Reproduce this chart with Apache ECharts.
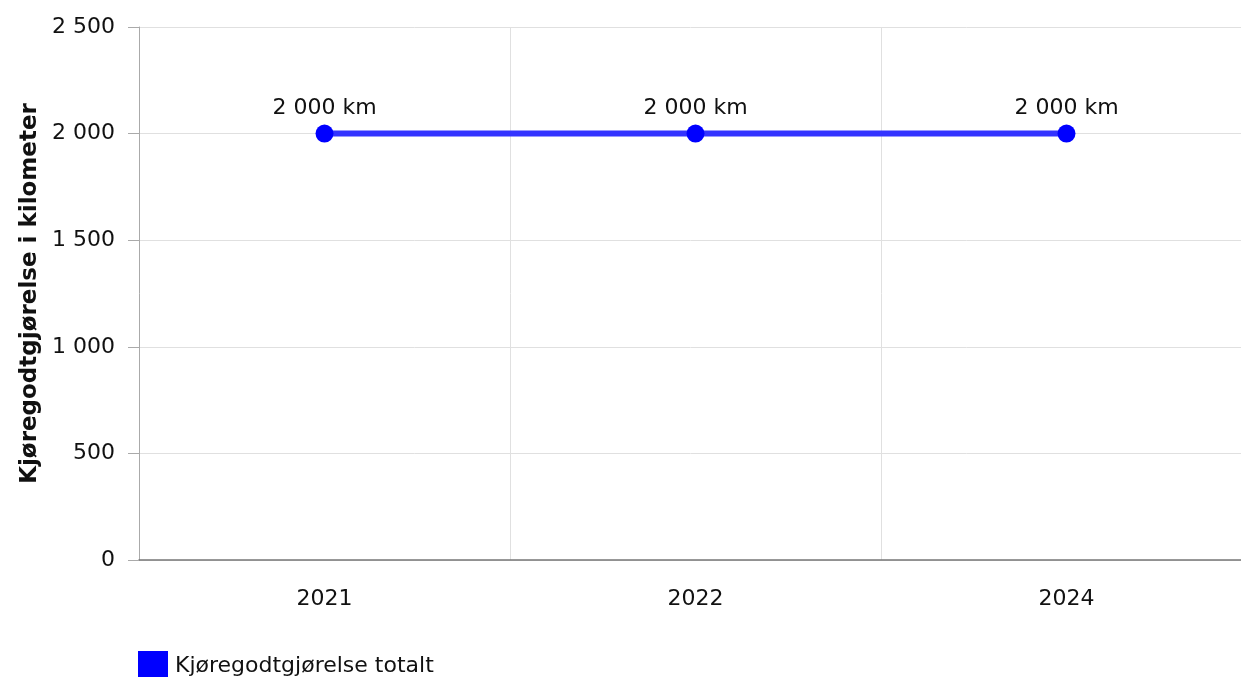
<!DOCTYPE html>
<html><head><meta charset="utf-8">
<script src="https://cdn.jsdelivr.net/npm/echarts@6/dist/echarts.min.js"></script>
<style>html,body{margin:0;padding:0;background:#fff}#c{width:1241px;height:677px}</style>
</head><body><div id="c"></div>
<script>
const categories = ['2021', '2022', '2024'];
const values = [2000, 2000, 2000];
const seriesName = 'Kjøregodtgjørelse totalt';
const yAxisTitle = 'Kjøregodtgjørelse i kilometer';
const fmt = v => String(v).replace(/\B(?=(\d{3})+(?!\d))/g, ' ');
const FONT = 'Verdana, "DejaVu Sans", sans-serif';
const chart = echarts.init(document.getElementById('c'));
chart.setOption({
  animation: false,
  textStyle: { fontFamily: FONT },
  grid: { left: 139, width: 1113, top: 27, height: 533, containLabel: false, outerBoundsMode: 'none' },
  legend: {
    left: 133, top: 646, itemWidth: 30, itemHeight: 30, itemGap: 10,
    icon: 'rect',
    textStyle: { fontFamily: FONT, fontSize: 22, color: '#111', padding: [0, 0, 0, 2] },
    data: [{ name: seriesName, itemStyle: { color: '#0000ff' } }]
  },
  xAxis: {
    type: 'category', data: categories, boundaryGap: true,
    axisLine: { lineStyle: { color: '#777', width: 1.5 } },
    axisTick: { alignWithLabel: true, length: 8, lineStyle: { color: '#aaa' } },
    axisLabel: { fontFamily: FONT, fontSize: 22, color: '#111', margin: 28 },
    splitLine: { show: true, lineStyle: { color: '#e0e0e0' } }
  },
  yAxis: {
    type: 'value', min: 0, max: 2500, interval: 500,
    name: yAxisTitle, nameLocation: 'middle', nameGap: 96, nameRotate: 90,
    nameTextStyle: { fontFamily: FONT, fontSize: 23, fontWeight: 'bold', color: '#111' },
    axisLine: { show: true, lineStyle: { color: '#aaa' } },
    axisTick: { show: true, length: 11, lineStyle: { color: '#aaa' } },
    axisLabel: { fontFamily: FONT, fontSize: 22, color: '#111', margin: 24, formatter: fmt },
    splitLine: { lineStyle: { color: '#e0e0e0' } }
  },
  series: [{
    name: seriesName, type: 'line', data: values,
    symbol: 'circle', symbolSize: 18,
    lineStyle: { color: '#3333ff', width: 6 },
    itemStyle: { color: '#0000ff' },
    label: { show: true, position: 'top', distance: 5, fontFamily: FONT, fontSize: 22, color: '#111',
      formatter: p => fmt(p.value) + ' km' }
  }]
});
</script></body></html>
